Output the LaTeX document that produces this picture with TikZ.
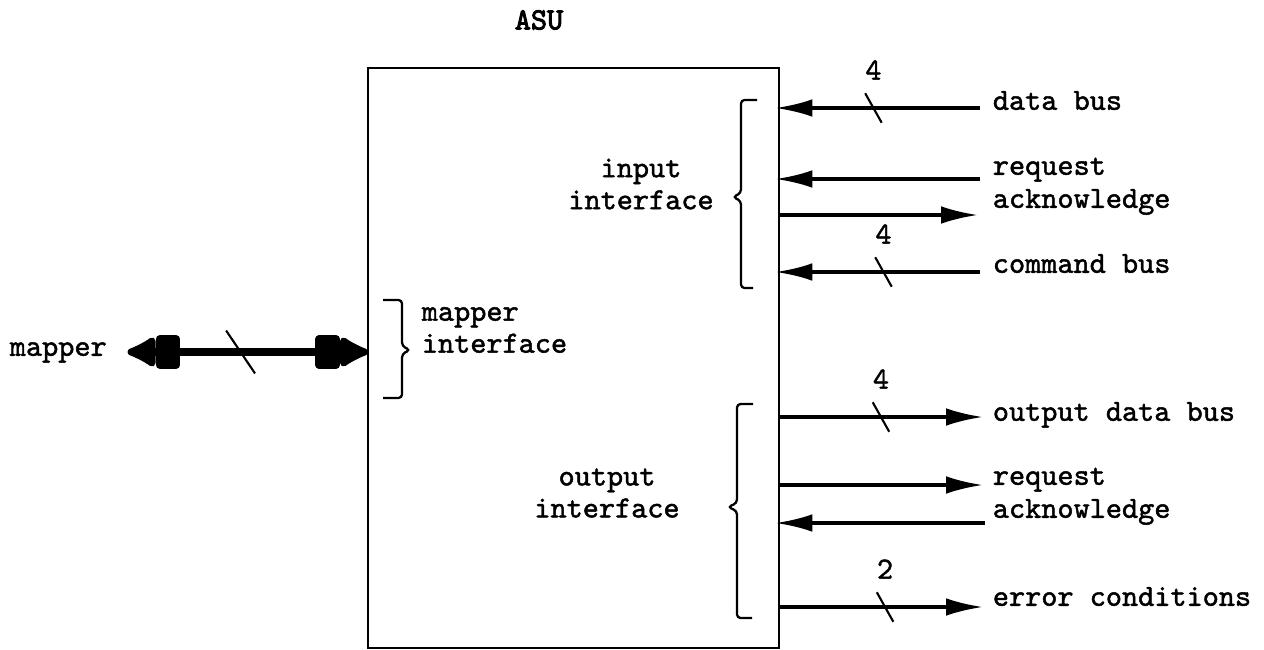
\documentclass[tikz,border=0pt]{standalone}
\usepackage{fontspec}
\newfontfamily\typefont{lmmono10-regular.otf}[FakeBold=1.5]
\newfontfamily\titlefont{lmmono10-regular.otf}[FakeBold=3]
\usetikzlibrary{arrows.meta, positioning, calc}
\newcommand\diafont{\typefont\fontsize{17.5}{18.2}\selectfont}

\begin{document}
\begin{tikzpicture}[x=0.02cm, y=-0.02cm, font=\diafont, >={Latex[length=21pt,width=10pt]},
    sig/.style={line width=2pt},
    sigin/.style={sig, <-, shorten <=-2pt},
    sigout/.style={sig, ->},
    lbl/.style={anchor=west, inner sep=2pt, text height=1ex, text depth=0pt},
    buswidth/.style={minimum width=0.26cm, minimum height=0.52cm, inner sep=0pt},
    slash/.style={line width=1.2pt},
    bracket/.style={line width=1.3pt, rounded corners=2pt}]
    \useasboundingbox (0,0) rectangle (1264,649);
    \node[draw, line width=1.3pt, outer sep=0pt, anchor=north west, minimum width=8.22cm, minimum height=11.6cm, inner sep=0pt] (asu) at (368,68) {};
    \node[font={\titlefont\fontsize{17.5}{18.2}\selectfont}] (title) at (539,20) {ASU};

    % input interface
    \node[align=center] (inif) at (641,184) {input\\interface};
    \draw[bracket] (757,100) -- (741,100) -- (741,193) -- (733,197) -- (741,201) -- (741,288) -- (753,288);
    \coordinate (dbR) at (980,108);
    \coordinate (rq1R) at (980,179);
    \coordinate (ak1R) at (978,215);
    \coordinate (cbR) at (980,272);
    \node[lbl] (db) at (989,106) {data bus};
    \node[lbl] (rq1) at (989,171) {request};
    \node[lbl] (ak1) at (989,204) {acknowledge};
    \node[lbl] (cb) at (989,269) {command bus};
    \draw[sigin] (asu.east |- dbR) -- (dbR) node[buswidth, pos=.47, label={[label distance=0.12cm]above:4}] (w1) {};
    \draw[slash] (w1.north west) -- (w1.south east);
    \draw[sigin] (asu.east |- rq1R) -- (rq1R);
    \draw[sigout] (asu.east |- ak1R) -- (ak1R);
    \draw[sigin] (asu.east |- cbR) -- (cbR) node[buswidth, pos=.52, label={[label distance=0.12cm]above:4}] (w2) {};
    \draw[slash] (w2.north west) -- (w2.south east);

    % output interface
    \node[align=center] (outif) at (607,493) {output\\interface};
    \draw[bracket] (753,404) -- (737,404) -- (737,503) -- (728,507) -- (737,511) -- (737,618) -- (752,618);
    \coordinate (odbR) at (983,417);
    \coordinate (rq2R) at (983,485);
    \coordinate (ak2R) at (985,523);
    \coordinate (errR) at (983,607);
    \node[lbl] (odb) at (989,417) {output data bus};
    \node[lbl] (rq2) at (989,481) {request};
    \node[lbl] (ak2) at (989,514) {acknowledge};
    \node[lbl] (err) at (989,602) {error conditions};
    \draw[sigout] (asu.east |- odbR) -- (odbR) node[buswidth, pos=.5, label={[label distance=0.12cm]above:4}] (w3) {};
    \draw[slash] (w3.north west) -- (w3.south east);
    \draw[sigout] (asu.east |- rq2R) -- (rq2R);
    \draw[sigin] (asu.east |- ak2R) -- (ak2R);
    \draw[sigout] (asu.east |- errR) -- (errR) node[buswidth, pos=.52, label={[label distance=0.12cm]above:2}] (w4) {};
    \draw[slash] (w4.north west) -- (w4.south east);

    % mapper
    \node[lbl, align=left, text height=, text depth=] (mapif) at (418,330) {mapper\\interface};
    \draw[bracket] (383,300) -- (402,300) -- (402,346) -- (410,350) -- (402,354) -- (402,398) -- (383,398);
    \node[lbl] (mapper) at (6,352) {mapper};
    \draw[line width=4.5pt, {Latex[length=20pt,width=21pt,round,sep=0pt] Square[length=14pt,width=19pt,round]}-{Square[length=14pt,width=19pt,round,sep=0pt] Latex[length=20pt,width=21pt,round]}]
        ([xshift=0.34cm]mapper.east) -- (asu.west |- mapper.east)
        node[minimum width=0.42cm, minimum height=0.7cm, inner sep=0pt, pos=.47] (w0) {};
    \draw[slash] (w0.north west) -- (w0.south east);
\end{tikzpicture}
\end{document}
